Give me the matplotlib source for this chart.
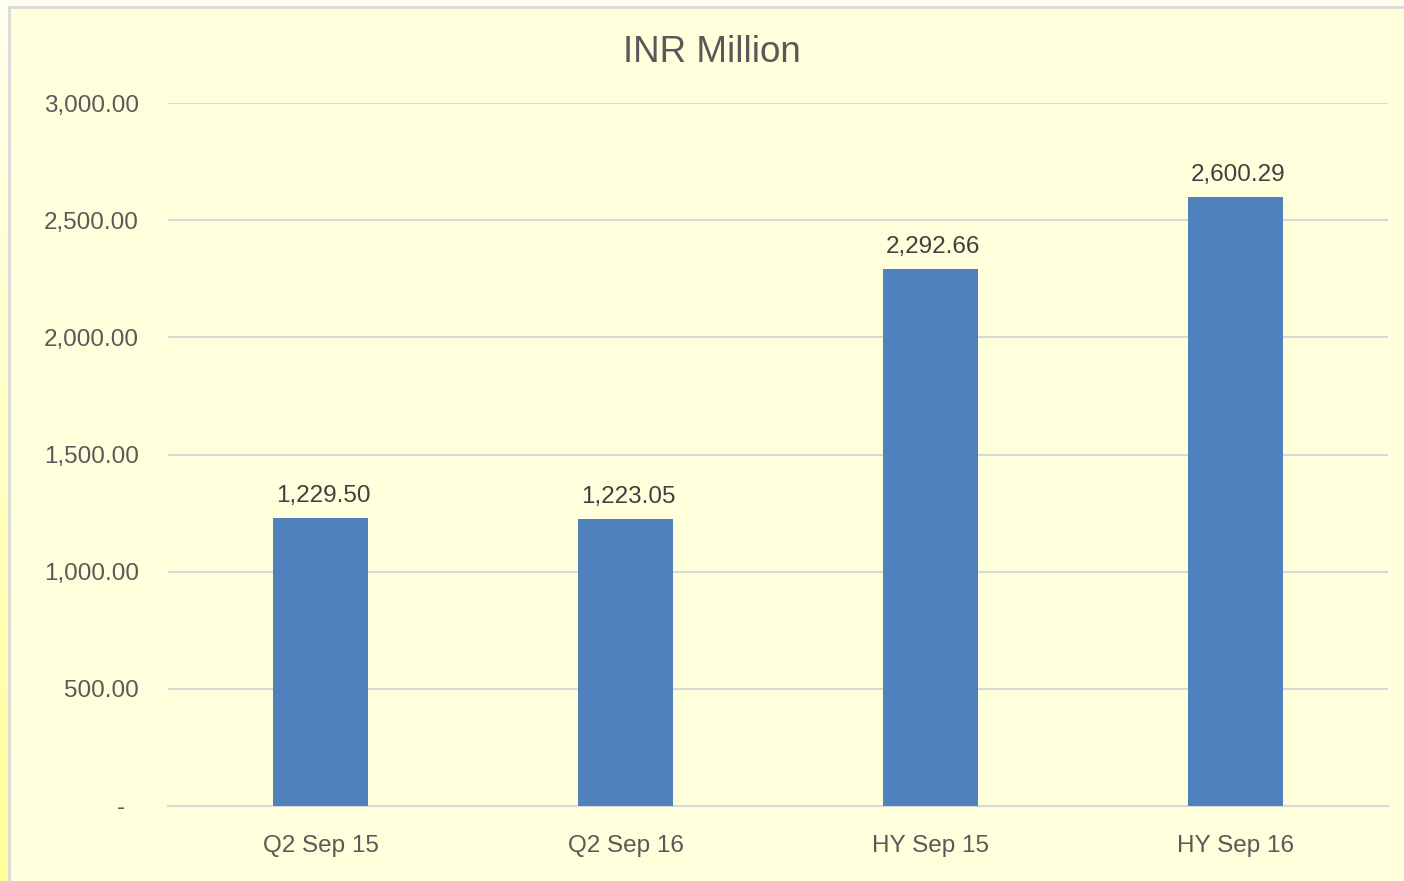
import matplotlib.pyplot as plt
from matplotlib.colors import LinearSegmentedColormap
import numpy as np

categories = ["Q2 Sep 15", "Q2 Sep 16", "HY Sep 15", "HY Sep 16"]
values = [1229.50, 1223.05, 2292.66, 2600.29]
yticks = [0, 500, 1000, 1500, 2000, 2500, 3000]

W, H = 1404, 881
plt.rcParams['font.family'] = ['Liberation Sans', 'DejaVu Sans']
textcol = '#595959'
bg = '#FFFFDC'
gridcol = '#D9D9D9'

fig = plt.figure(figsize=(W / 100, H / 100), dpi=100)
fig.patch.set_facecolor('#FFFFF0')

# left strip: gradient from pale cream to yellow
strip = fig.add_axes([0, 0, 8 / W, 1])
grad = np.linspace(0, 1, 256).reshape(-1, 1)
cmap = LinearSegmentedColormap.from_list('s', ['#FFFFEE', '#FFFF99'])
strip.imshow(grad, aspect='auto', cmap=cmap, extent=[0, 1, 0, 1], origin='upper')
strip.axis('off')

# chart area with grey border
frame = fig.add_axes([9 / W, -0.02, 1.0, 1 - 7 / H + 0.02])
frame.set_facecolor(bg)
frame.set_xticks([])
frame.set_yticks([])
for s in frame.spines.values():
    s.set_color(gridcol)
    s.set_linewidth(2)

ax = fig.add_axes([168 / W, (H - 806) / H, (1388 - 168) / W, (806 - 103) / H])
ax.set_facecolor('none')

x = np.arange(len(categories))
ax.bar(x, values, width=0.31, color='#4F81BD', zorder=3)

ax.set_xlim(-0.5, len(categories) - 0.5)
ax.set_ylim(0, 3000)
ax.set_yticks(yticks)
# excel accounting format: zero shown as a dash, indented
ax.set_yticklabels(['-  ' if v == 0 else f"{v:,.2f}" for v in yticks])
ax.set_xticks(x)
ax.set_xticklabels(categories)
ax.tick_params(axis='both', length=0, labelsize=17.5, colors=textcol)
ax.tick_params(axis='y', pad=21)
ax.tick_params(axis='x', pad=21)
ax.yaxis.grid(True, color=gridcol, linewidth=1.5, zorder=0)
for s in ['top', 'right', 'left']:
    ax.spines[s].set_visible(False)
ax.spines['bottom'].set_color(gridcol)
ax.spines['bottom'].set_linewidth(1.5)

for xi, v in zip(x, values):
    ax.annotate(f"{v:,.2f}", (xi, v), xytext=(2, 8), textcoords='offset points',
                ha='center', va='bottom', fontsize=17.5, color='#404040')

fig.text(712 / W, 1 - 52 / H, "INR Million", ha='center', va='center',
         fontsize=26.5, color=textcol)

fig.savefig('out.png', dpi=100, facecolor=fig.get_facecolor())
